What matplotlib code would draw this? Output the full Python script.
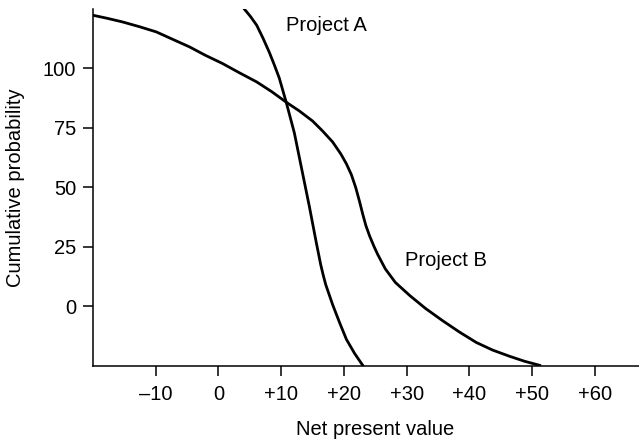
import matplotlib
matplotlib.use("Agg")
import matplotlib.pyplot as plt

plt.rcParams['font.family'] = ['Liberation Sans', 'DejaVu Sans']

proj_a_x = [4.1, 5.1, 6.1, 7.1, 8.1, 8.9, 9.7, 10.8, 12.1, 13.4, 14.5, 15.6, 16.3, 16.7,
            17.1, 18.2, 19.3, 20.4, 21.7, 23.0]
proj_a_y = [125, 121.8, 118.1, 112.7, 106.8, 101.5, 95.9, 85.8, 72.9, 56.1, 41.9, 26.8, 17.6, 13.2,
            9.2, 0.8, -6.7, -13.8, -19.7, -24.7]

proj_b_x = [-20, -17.7, -15.3, -12.6, -9.9, -7.3, -4.6, -2.1, 0.6, 3.3, 6.1, 8.5, 10.8, 12.9,
            15.0, 16.6, 18.2, 19.5, 20.4, 21.2, 21.9, 22.5, 23.0, 23.5, 24.1, 24.8, 25.4,
            26.6, 28.2, 30.5, 33.0, 35.7, 38.4, 41.1, 43.7, 46.4, 48.8, 51.2]
proj_b_y = [122.3, 121.0, 119.5, 117.5, 115.3, 112.2, 109.0, 105.5, 102.1, 98.2, 94.3, 90.2, 85.8, 82.1,
            77.9, 73.7, 69.1, 64.1, 59.9, 55.3, 49.8, 44.0, 38.8, 34.0, 29.6, 25.2, 21.8,
            15.8, 10.1, 4.6, -0.8, -5.9, -10.7, -15.1, -18.3, -20.9, -23.0, -24.7]

xticks = [-10, 0, 10, 20, 30, 40, 50, 60]
xtick_labels = ['\u201310', '0', '+10', '+20', '+30', '+40', '+50', '+60']
yticks = [0, 25, 50, 75, 100]

fs = 14.5

fig = plt.figure(figsize=(6.39, 4.41), dpi=100)
ax = fig.add_axes([0.1455, 0.17, 0.86, 0.81])

ax.plot(proj_a_x, proj_a_y, color='black', linewidth=2.0, solid_joinstyle='round')
ax.plot(proj_b_x, proj_b_y, color='black', linewidth=2.0, solid_joinstyle='round')

ax.text(10.7, 118, 'Project A', fontsize=fs, va='center', ha='left')
ax.text(29.8, 19.4, 'Project B', fontsize=fs, va='center', ha='left')

ax.set_xlim(-20, 67.6)
ax.set_ylim(-25, 125)
ax.set_xticks(xticks)
ax.set_xticklabels(xtick_labels)
ax.set_yticks(yticks)

ax.spines['top'].set_visible(False)
ax.spines['right'].set_visible(False)
ax.spines['left'].set_linewidth(1.1)
ax.spines['bottom'].set_linewidth(1.1)
ax.tick_params(direction='out', length=7, width=1.1, labelsize=fs)
ax.tick_params(axis='x', pad=7)
ax.tick_params(axis='y', pad=5)

ax.set_xlabel('Net present value', fontsize=fs)
ax.set_ylabel('Cumulative probability', fontsize=fs)
ax.xaxis.set_label_coords(0.513, -0.15)
ax.yaxis.set_label_coords(-0.124, 0.5)

fig.savefig('out.png', dpi=100)
